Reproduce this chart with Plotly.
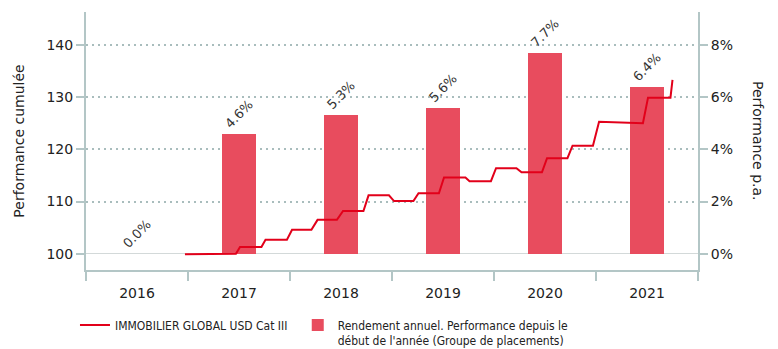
import plotly.graph_objects as go

# Calendar years shown on the category axis
years = [2016, 2017, 2018, 2019, 2020, 2021]
# Annual return / year-to-date performance (%)
annual_returns = [0.0, 4.6, 5.3, 5.6, 7.7, 6.4]

# Cumulative performance (indexed to 100), time expressed in fractional years
perf_time = [2016.47, 2016.97, 2017.01, 2017.22, 2017.26, 2017.47, 2017.52, 2017.71,
             2017.77, 2017.96, 2018.02, 2018.22, 2018.27, 2018.47, 2018.52, 2018.71,
             2018.76, 2018.96, 2019.01, 2019.22, 2019.26, 2019.47, 2019.52, 2019.72,
             2019.77, 2019.97, 2020.02, 2020.22, 2020.27, 2020.47, 2020.53, 2020.75,
             2020.96, 2021.01, 2021.23, 2021.25]
perf_index = [99.9, 100.0, 101.3, 101.3, 102.7, 102.7, 104.6, 104.6,
              106.5, 106.5, 108.2, 108.2, 111.2, 111.2, 110.1, 110.1,
              111.6, 111.6, 114.6, 114.6, 113.9, 113.9, 116.4, 116.4,
              115.6, 115.6, 118.3, 118.3, 120.7, 120.7, 125.3, 125.2,
              125.0, 129.9, 129.9, 133.3]

left_ticks = [100, 110, 120, 130, 140]
right_ticks = [0, 2, 4, 6, 8]

FONT = "DejaVu Sans"
LEGEND_FONT = "DejaVu Sans Condensed, DejaVu Sans"
AXIS_COLOR = "#b3c6c6"
GRID_COLOR = "#a9bdbd"
TEXT_COLOR = "#222222"

fig = go.Figure()

fig.add_trace(go.Bar(
    x=years,
    y=annual_returns,
    width=0.33,
    marker=dict(color="#e84c5e", line=dict(width=0)),
    text=[f"{v:.1f}%" for v in annual_returns],
    textposition="outside",
    textangle=-45,
    textfont=dict(family=FONT, size=13, color="#333333"),
    constraintext="none",
    cliponaxis=False,
    name="Rendement annuel. Performance depuis le<br>début de l'année (Groupe de placements)",
    legend="legend2",
    xaxis="x",
    yaxis="y",
    hoverinfo="skip",
))

fig.add_trace(go.Scatter(
    x=perf_time,
    y=perf_index,
    mode="lines",
    line=dict(color="#e2001a", width=2),
    name="IMMOBILIER GLOBAL USD Cat III",
    legend="legend",
    xaxis="x",
    yaxis="y2",
))

legend_common = dict(
    orientation="h",
    xanchor="left",
    yanchor="top",
    y=-0.158,
    font=dict(family=LEGEND_FONT, size=12, color=TEXT_COLOR),
    itemwidth=30,
    valign="top",
    bgcolor="rgba(0,0,0,0)",
)

fig.update_layout(
    width=778,
    height=349,
    margin=dict(l=86, r=80, t=12, b=79, autoexpand=False),
    paper_bgcolor="white",
    plot_bgcolor="white",
    font=dict(family=FONT, size=14, color=TEXT_COLOR),
    bargap=0,
    xaxis=dict(
        range=[2015.5, 2021.5],
        tickmode="array",
        tickvals=years,
        ticktext=[str(y) for y in years],
        ticks="",
        ticklabelstandoff=9,
        showgrid=False,
        zeroline=False,
        showline=True,
        linecolor=AXIS_COLOR,
        linewidth=2,
        tickfont=dict(family=FONT, size=14, color=TEXT_COLOR),
        minor=dict(
            tickmode="array",
            tickvals=[y - 0.5 for y in years] + [years[-1] + 0.5],
            ticks="outside",
            ticklen=9,
            tickwidth=2,
            tickcolor=AXIS_COLOR,
            showgrid=False,
        ),
    ),
    yaxis=dict(
        side="right",
        range=[-0.62, 9.26],
        tickmode="array",
        tickvals=right_ticks,
        ticktext=[f"{v}%" for v in right_ticks],
        ticks="outside",
        ticklen=8,
        tickwidth=2,
        tickcolor=AXIS_COLOR,
        showline=True,
        linecolor=AXIS_COLOR,
        linewidth=2,
        showgrid=True,
        gridcolor=GRID_COLOR,
        gridwidth=1.5,
        griddash="2px,4px",
        zeroline=True,
        zerolinecolor="#d3d9d9",
        zerolinewidth=1,
        tickfont=dict(family=FONT, size=14, color=TEXT_COLOR),
    ),
    yaxis2=dict(
        overlaying="y",
        side="left",
        range=[96.9, 146.3],
        tickmode="array",
        tickvals=left_ticks,
        ticks="outside",
        ticklen=8,
        tickwidth=2,
        tickcolor=AXIS_COLOR,
        showline=True,
        linecolor=AXIS_COLOR,
        linewidth=2,
        showgrid=False,
        zeroline=False,
        tickfont=dict(family=FONT, size=14, color=TEXT_COLOR),
        title=dict(text="Performance cumulée", font=dict(family=FONT, size=14, color=TEXT_COLOR), standoff=19),
    ),
    showlegend=True,
    legend=dict(legend_common, x=-0.018),
    legend2=dict(legend_common, x=0.346),
    annotations=[
        dict(
            text="Performance p.a.",
            xref="paper", yref="paper",
            x=1.0, xshift=60, y=0.5,
            xanchor="center", yanchor="middle",
            textangle=90,
            showarrow=False,
            font=dict(family=FONT, size=14, color=TEXT_COLOR),
        )
    ],
)

fig.write_html("out.html")
